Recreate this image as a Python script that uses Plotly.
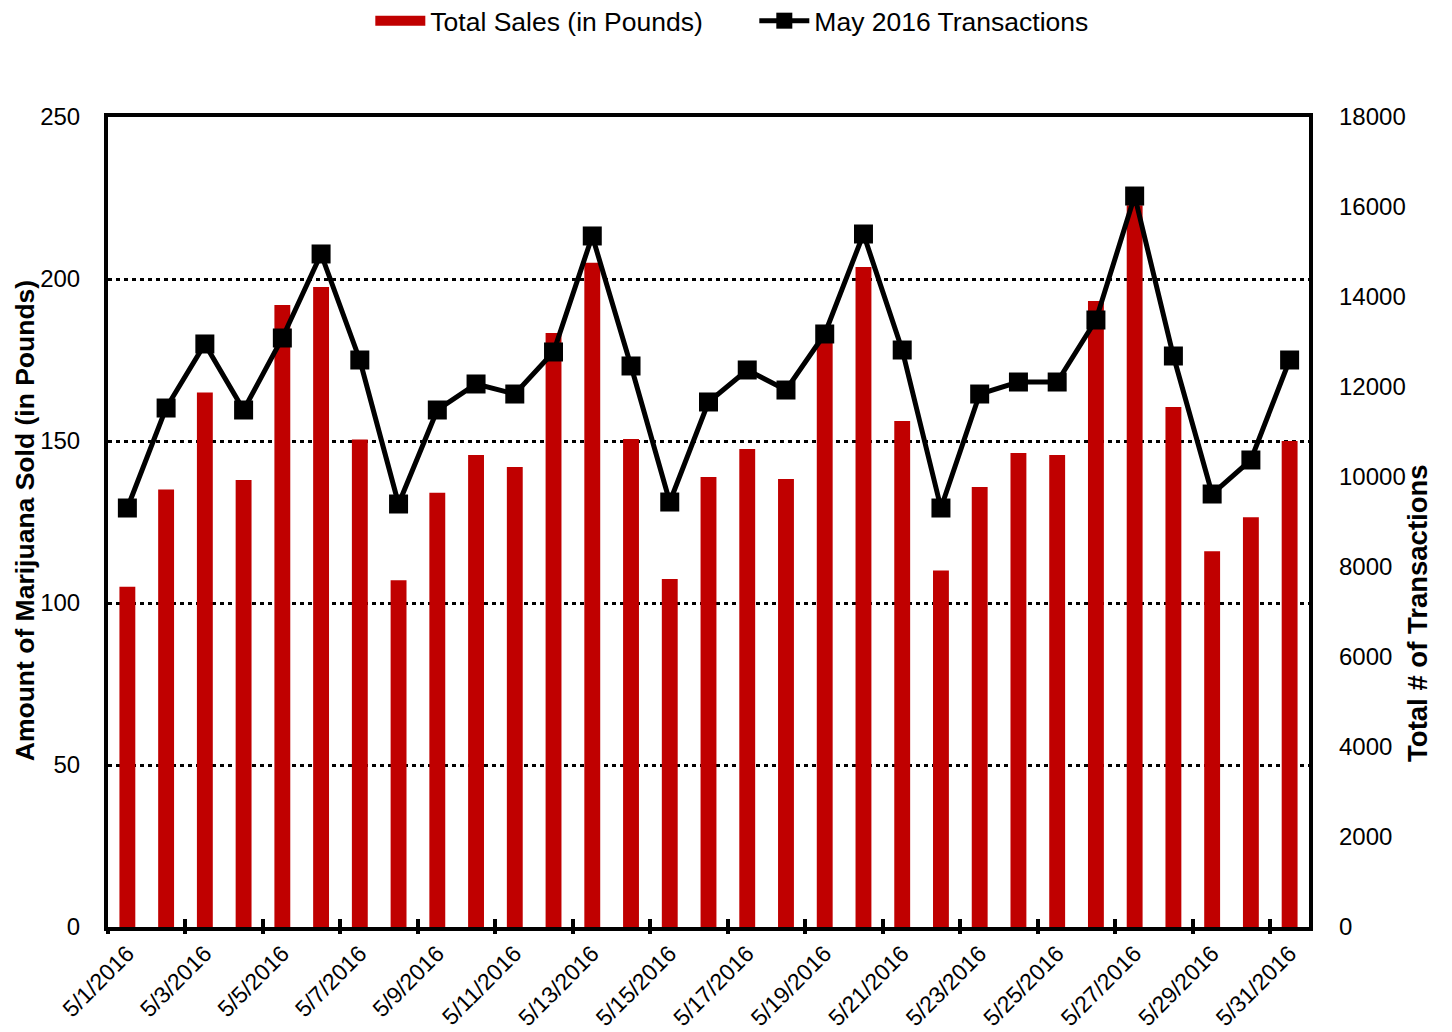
import plotly.graph_objects as go

dates = [f"5/{d}/2016" for d in range(1, 32)]
sales = [105, 135, 165, 138, 192, 197.5, 150.5, 107, 134, 145.7, 142, 183.3, 205, 150.6, 107.4,
         138.9, 147.5, 138.3, 181, 203.7, 156.2, 110, 135.8, 146.3, 145.7, 193.2, 222.8, 160.5,
         116, 126.5, 150]
transactions = [9311, 11533, 12956, 11489, 13089, 14956, 12600, 9400, 11489, 12067, 11844,
                12778, 15356, 12467, 9444, 11667, 12378, 11933, 13178, 15400, 12822, 9311,
                11844, 12111, 12111, 13489, 16244, 12689, 9622, 10378, 12600]
tick_labels = dates[::2]
boundary_ticks = [i - 0.5 for i in range(0, len(dates), 2)]

FONT = "Liberation Sans, Arial, sans-serif"
RED = "#C00000"

fig = go.Figure()
fig.add_trace(go.Bar(x=dates, y=sales, name="Total Sales (in Pounds)", showlegend=False,
                     marker=dict(color=RED, line=dict(width=0)), width=0.41))
# legend-only entry drawn as a wide red swatch
fig.add_trace(go.Scatter(x=[None], y=[None], name="Total Sales (in Pounds)", mode="lines",
                         line=dict(color=RED, width=16), hoverinfo="skip"))
fig.add_trace(go.Scatter(x=dates, y=transactions, name="May 2016 Transactions", yaxis="y2",
                         mode="lines+markers", line=dict(color="black", width=5),
                         marker=dict(symbol="square", size=19, color="black")))

fig.update_layout(
    width=1452, height=1032,
    margin=dict(l=108, r=143, t=117, b=105, autoexpand=False),
    paper_bgcolor="white", plot_bgcolor="white",
    font=dict(family=FONT, color="black", size=24),
    showlegend=True,
    legend=dict(orientation="h", xref="container", yref="container", x=0.5195, xanchor="center",
                y=0.9797, yanchor="middle", font=dict(size=26.5), itemwidth=50,
                entrywidth=319, bgcolor="rgba(0,0,0,0)"),
    xaxis=dict(type="category", range=[-0.5, len(dates) - 0.5], tickmode="array",
               tickvals=tick_labels, ticktext=tick_labels, tickangle=-45, ticks="",
               showline=True, linecolor="black", linewidth=4, mirror=True, automargin=False,
               showgrid=False, zeroline=False, tickfont=dict(size=23)),
    xaxis3=dict(overlaying="x", anchor="y", side="bottom", range=[-0.5, len(dates) - 0.5],
                tickmode="array", tickvals=boundary_ticks, showticklabels=False,
                ticks="outside", ticklen=6, tickwidth=4, tickcolor="black", automargin=False,
                showline=False, showgrid=False, zeroline=False),
    xaxis4=dict(overlaying="x", anchor="y", side="bottom", range=[-0.5, len(dates) - 0.5],
                tickmode="array", tickvals=boundary_ticks, showticklabels=False,
                ticks="inside", ticklen=8, tickwidth=4, tickcolor="black", automargin=False,
                showline=False, showgrid=False, zeroline=False),
    yaxis=dict(range=[0, 250], dtick=50, tick0=0, showline=True, linecolor="black", linewidth=4,
               mirror=True, showgrid=True, gridcolor="black", gridwidth=3, griddash="4px,4px",
               zeroline=False, ticks="", ticklabelstandoff=19, tickfont=dict(size=24),
               automargin=False),
    yaxis2=dict(range=[0, 18000], dtick=2000, tick0=0, overlaying="y", side="right",
                tickformat="d", showgrid=False, zeroline=False, showline=False, ticks="",
                ticklabelstandoff=29, tickfont=dict(size=24), automargin=False),
    annotations=[
        dict(text="<b>Amount of Marijuana Sold (in Pounds)</b>", xref="paper", yref="paper",
             x=-0.0691, y=0.501, textangle=-90, showarrow=False, font=dict(size=26.5),
             xanchor="center", yanchor="middle"),
        dict(text="<b>Total # of Transactions</b>", xref="paper", yref="paper",
             x=1.0907, y=0.3877, textangle=-90, showarrow=False, font=dict(size=27.5),
             xanchor="center", yanchor="middle"),
    ],
)

# invisible helper traces that activate the boundary tick-mark axes
fig.add_trace(go.Scatter(x=[0], y=[0], xaxis="x3", mode="markers", marker=dict(opacity=0),
                         showlegend=False, hoverinfo="skip"))
fig.add_trace(go.Scatter(x=[0], y=[0], xaxis="x4", mode="markers", marker=dict(opacity=0),
                         showlegend=False, hoverinfo="skip"))

fig.write_html("out.html", config={"displayModeBar": False},
               post_script="document.body.style.margin='0';")
